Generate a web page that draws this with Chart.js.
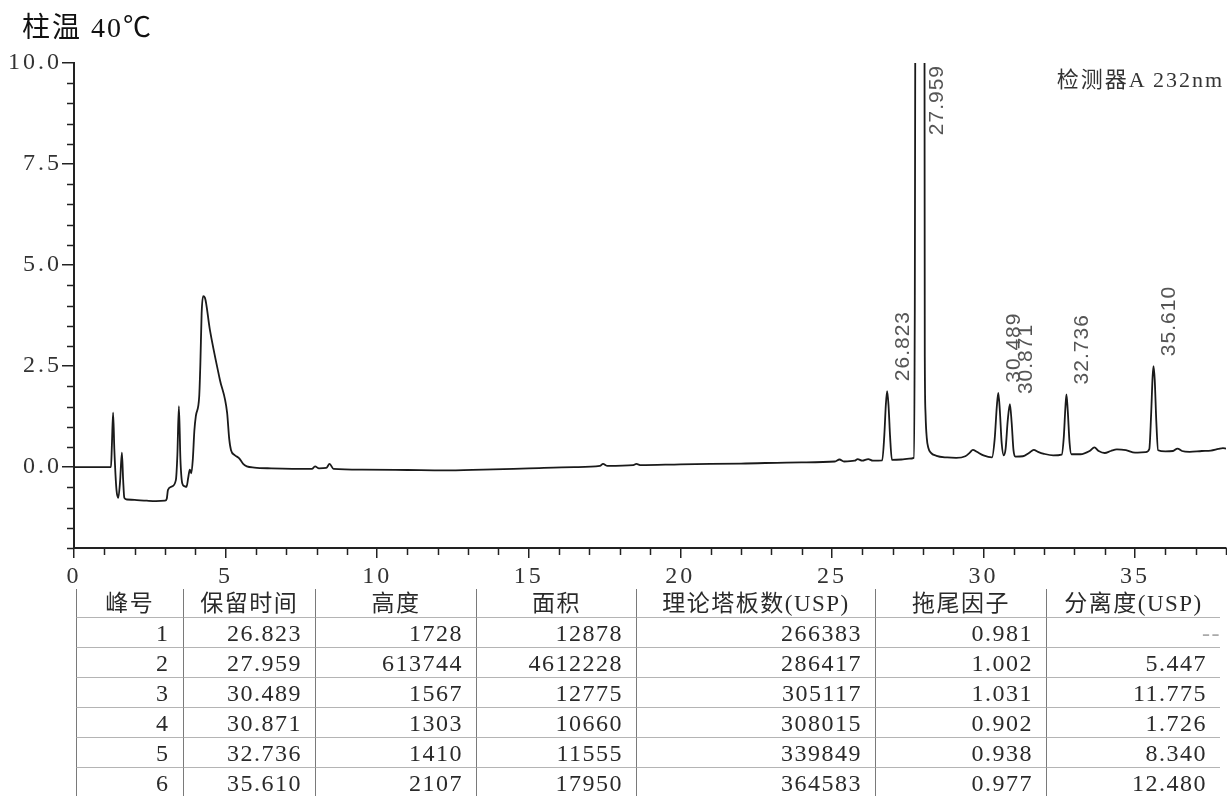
<!DOCTYPE html>
<html><head><meta charset="utf-8">
<script src="https://cdn.jsdelivr.net/npm/chart.js@4.4.1/dist/chart.umd.min.js"></script>
<style>
html,body{margin:0;padding:0;background:#fff;width:1227px;height:796px;overflow:hidden;}
#wrap{position:relative;width:1227px;height:796px;}
#c{position:absolute;left:0;top:0;}
#title{position:absolute;left:22px;top:5px;font-size:28px;font-family:"Liberation Serif","Noto Sans CJK SC";letter-spacing:2px;color:#111;white-space:nowrap;}
#det{position:absolute;right:3px;top:61px;font-size:22px;font-family:"Liberation Serif","Noto Sans CJK SC";letter-spacing:2px;color:#333;white-space:nowrap;}
#tbl{position:absolute;left:76px;top:589px;display:grid;grid-template-columns:106.5px 132.5px 161px 160px 239px 171px 174px;grid-template-rows:29px repeat(6,30px);font-size:24px;font-family:"Liberation Serif","Noto Sans CJK SC";letter-spacing:1.5px;color:#2a2a2a;}
#tbl div{box-sizing:border-box;border-left:1.5px solid #7a7a7a;border-bottom:1px solid #b4b4b4;text-align:right;padding-right:13px;line-height:30px;white-space:nowrap;}
#tbl div.h{text-align:center;padding-right:0;line-height:29px;font-size:23px;}
</style></head>
<body><div id="wrap">
<canvas id="c" width="1227" height="796"></canvas>
<div id="title">柱温 40℃</div>
<div id="det">检测器A 232nm</div>
<div id="tbl"></div>
</div>
<script>
// ---- chromatogram trace (retention time, min / signal, mV) ----
const traceTime = [0,1.22,1.25,1.29,1.33,1.40,1.46,1.52,1.58,1.62,1.66,1.75,2.0,2.4,2.7,3.0,3.06,3.10,3.22,3.36,3.41,3.46,3.51,3.57,3.64,3.71,3.77,3.82,3.87,3.92,3.97,4.02,4.13,4.17,4.21,4.26,4.32,4.48,4.81,5.05,5.12,5.18,5.30,5.45,5.58,5.70,5.95,6.5,7.2,7.85,7.95,8.08,8.32,8.43,8.56,9.5,11.0,12.2,13.5,15.0,16.5,17.35,17.45,17.6,18.45,18.55,18.7,20.0,22.0,24.0,25.1,25.25,25.4,25.75,25.85,26.0,26.2,26.35,26.66,26.73,26.78,26.823,26.87,26.92,26.98,27.3,27.55,27.70,27.73,27.75,27.85,27.959,28.04,28.055,28.065,28.09,28.13,28.18,28.26,28.45,28.8,29.1,29.4,29.55,29.65,29.78,30.0,30.28,30.37,30.44,30.489,30.54,30.60,30.67,30.73,30.80,30.871,30.93,30.99,31.05,31.3,31.5,31.66,31.8,32.0,32.3,32.58,32.65,32.70,32.736,32.78,32.84,32.90,33.2,33.5,33.66,33.8,34.0,34.2,34.4,34.7,35.0,35.35,35.47,35.53,35.58,35.61,35.65,35.70,35.76,36.0,36.25,36.4,36.55,36.8,37.2,37.5,37.75,37.9,38.0];
const traceSignal = [0,0,0.55,1.35,0.45,-0.55,-0.76,-0.35,0.36,-0.3,-0.76,-0.80,-0.81,-0.83,-0.84,-0.83,-0.78,-0.56,-0.48,-0.32,0.3,1.51,0.2,-0.40,-0.47,-0.49,-0.25,-0.06,-0.15,0.2,0.9,1.27,1.75,2.6,3.8,4.23,4.19,3.41,2.17,1.35,0.7,0.42,0.30,0.22,0.08,0.02,-0.01,-0.03,-0.04,-0.04,0.02,-0.03,-0.02,0.08,-0.04,-0.06,-0.07,-0.08,-0.06,-0.03,0.0,0.03,0.08,0.03,0.05,0.08,0.05,0.07,0.09,0.12,0.14,0.19,0.14,0.16,0.2,0.16,0.2,0.16,0.17,0.8,1.55,1.88,1.5,0.75,0.18,0.19,0.21,0.23,3.0,10.5,160,613.7,160,10.5,2.6,1.3,0.72,0.48,0.36,0.28,0.24,0.23,0.27,0.36,0.43,0.38,0.29,0.24,0.7,1.5,1.84,1.4,0.6,0.29,0.45,1.15,1.56,1.1,0.42,0.26,0.27,0.35,0.43,0.38,0.33,0.29,0.31,0.75,1.45,1.80,1.40,0.6,0.32,0.32,0.40,0.49,0.40,0.35,0.40,0.44,0.42,0.36,0.37,0.45,1.3,2.25,2.50,2.15,1.15,0.42,0.39,0.40,0.46,0.40,0.38,0.40,0.41,0.45,0.47,0.46];

// ---- peak annotations ----
const peakTimes = [26.823,27.959,30.489,30.871,32.736,35.610];
const peakLabels = ['26.823','27.959','30.489','30.871','32.736','35.610'];

// ---- axis ticks ----
const xMajorTicks = [0,5,10,15,20,25,30,35];
const xTickLabels = ['0','5','10','15','20','25','30','35'];
const xMinorTicks = [1,2,3,4,6,7,8,9,11,12,13,14,16,17,18,19,21,22,23,24,26,27,28,29,31,32,33,34,36,37,38];
const yMajorTicks = [0,2.5,5,7.5,10];
const yTickLabels = ['0.0','2.5','5.0','7.5','10.0'];
const yMinorTicks = [-2,-1.5,-1,-0.5,0.5,1,1.5,2,3,3.5,4,4.5,5.5,6,6.5,7,8,8.5,9,9.5];

// ---- peak table ----
const tableHeaders = ['峰号','保留时间','高度','面积','理论塔板数(USP)','拖尾因子','分离度(USP)'];
const peakNo = [1,2,3,4,5,6];
const retTime = [26.823,27.959,30.489,30.871,32.736,35.610];
const peakHeight = [1728,613744,1567,1303,1410,2107];
const peakArea = [12878,4612228,12775,10660,11555,17950];
const plates = [266383,286417,305117,308015,339849,364583];
const tailing = [0.981,1.002,1.031,0.902,0.938,0.977];
const resolution = [null,5.447,11.775,1.726,8.340,12.480];

// build table
(function(){
  const t = document.getElementById('tbl');
  tableHeaders.forEach(h=>{const d=document.createElement('div');d.className='h';d.textContent=h;t.appendChild(d);});
  for(let i=0;i<peakNo.length;i++){
    const cells=[String(peakNo[i]),retTime[i].toFixed(3),String(peakHeight[i]),String(peakArea[i]),String(plates[i]),tailing[i].toFixed(3),resolution[i]===null?null:resolution[i].toFixed(3)];
    cells.forEach(c=>{const d=document.createElement('div');
      if(c===null){const s=document.createElement('span');s.textContent='--';s.style.color='#aaa';s.style.marginRight='-14px';d.appendChild(s);}
      else d.textContent=c;
      t.appendChild(d);});
  }
})();

const minorTicks = {
  id:'minorTicks',
  afterDraw(chart){
    const {ctx, chartArea:a, scales:{x,y}} = chart;
    ctx.save();
    ctx.strokeStyle='#222'; ctx.lineWidth=1.5;
    ctx.beginPath();
    yMinorTicks.forEach(v=>{const py=Math.round(y.getPixelForValue(v))+0.5;ctx.moveTo(a.left-7,py);ctx.lineTo(a.left,py);});
    xMinorTicks.forEach(v=>{const px=Math.round(x.getPixelForValue(v))+0.5;ctx.moveTo(px,a.bottom);ctx.lineTo(px,a.bottom+7);});
    ctx.stroke();
    ctx.restore();
  }
};

const peakLabelPlugin = {
  id:'peakLabels',
  afterDatasetsDraw(chart){
    const {ctx, chartArea:a, scales:{x,y}} = chart;
    ctx.save();
    ctx.font = '21px "Liberation Sans"';
    try{ctx.letterSpacing='1px';}catch(e){}
    ctx.fillStyle = '#555';
    ctx.textAlign='left'; ctx.textBaseline='middle';
    peakTimes.forEach((t,k)=>{
      // apex from the trace data
      let best=-Infinity;
      traceTime.forEach((tt,i)=>{if(Math.abs(tt-t)<0.06 && traceSignal[i]>best) best=traceSignal[i];});
      const px = x.getPixelForValue(t)+16;
      let start = y.getPixelForValue(best)-10;
      const w = ctx.measureText(peakLabels[k]).width;
      if(start - w < a.top) start = a.top + w + 2;
      ctx.save();
      ctx.translate(px,start);
      ctx.rotate(-Math.PI/2);
      ctx.fillText(peakLabels[k],0,0);
      ctx.restore();
    });
    ctx.restore();
  }
};

const tickSpacing = {
  id:'tickSpacing',
  beforeDraw(chart){ try{chart.ctx.letterSpacing='3px';}catch(e){} },
  afterDraw(chart){ try{chart.ctx.letterSpacing='0px';}catch(e){} }
};

new Chart(document.getElementById('c'), {
  type:'line',
  data:{datasets:[{
    data: traceTime.map((t,i)=>({x:t,y:traceSignal[i]})),
    borderColor:'#1a1a1a', borderWidth:1.8, pointRadius:0, fill:false,
    cubicInterpolationMode:'monotone'
  }]},
  options:{
    responsive:false, animation:false, devicePixelRatio:1,
    layout:{padding:{left:0,right:1,top:63,bottom:208}},
    plugins:{legend:{display:false},tooltip:{enabled:false},title:{display:false}},
    scales:{
      x:{type:'linear',min:0,max:38,
        afterBuildTicks:s=>{s.ticks=xMajorTicks.map(v=>({value:v}));},
        afterFit:s=>{s.height=40;},
        grid:{drawOnChartArea:false,drawTicks:true,tickLength:10,color:'#222',lineWidth:1.5},
        border:{display:true,color:'#222',width:2},
        ticks:{autoSkip:false,maxRotation:0,padding:4,color:'#333',font:{family:'Liberation Serif',size:24},
          callback:(v,i)=>xTickLabels[i]}
      },
      y:{type:'linear',min:-2,max:10,
        afterBuildTicks:s=>{s.ticks=yMajorTicks.map(v=>({value:v}));},
        afterFit:s=>{s.width=74;},
        grid:{drawOnChartArea:false,drawTicks:true,tickLength:12,color:'#222',lineWidth:1.5},
        border:{display:true,color:'#222',width:2},
        ticks:{autoSkip:false,padding:0,color:'#333',font:{family:'Liberation Serif',size:24},
          callback:(v,i)=>yTickLabels[i]}
      }
    }
  },
  plugins:[tickSpacing,minorTicks,peakLabelPlugin]
});
</script>
</body></html>
